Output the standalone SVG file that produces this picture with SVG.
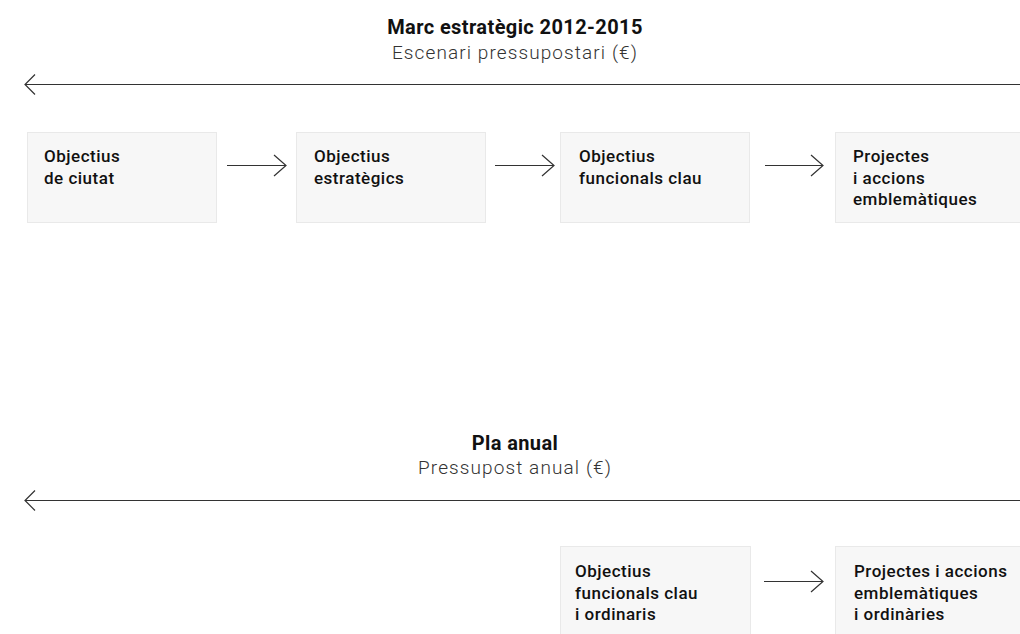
<svg xmlns="http://www.w3.org/2000/svg" width="1020" height="634" viewBox="0 0 1020 634">
<style>
.box{fill:#f7f7f7;stroke:#e9e9e9;stroke-width:1}
.t{font-family:Roboto,"Liberation Sans",sans-serif;font-size:17px;font-weight:500;fill:#111;letter-spacing:0.5px}
.h{font-family:Roboto,"Liberation Sans",sans-serif;font-size:20px;font-weight:700;fill:#111;text-anchor:middle;letter-spacing:0.4px}
.s{font-family:Roboto,"Liberation Sans",sans-serif;font-size:19px;font-weight:300;fill:#333;text-anchor:middle;letter-spacing:1.1px}
.ln{stroke:#333;stroke-width:1.2;fill:none}
</style>
<rect width="1020" height="634" fill="#fff"/>
<g id="header-top">
<text class="h" x="515" y="34">Marc estratègic 2012-2015</text>
<text class="s" x="515" y="59">Escenari pressupostari (€)</text>
</g>
<g id="header-bottom">
<text class="h" x="515" y="450">Pla anual</text>
<text class="s" x="515" y="474">Pressupost anual (€)</text>
</g>
<g id="n1"><rect class="box" x="27.5" y="132.5" width="189" height="90"/><text class="t" x="44" y="162">Objectius</text><text class="t" x="44" y="183.5">de ciutat</text></g>
<g id="n2"><rect class="box" x="296.5" y="132.5" width="189" height="90"/><text class="t" x="314" y="162">Objectius</text><text class="t" x="314" y="183.5">estratègics</text></g>
<g id="n3"><rect class="box" x="560.5" y="132.5" width="189" height="90"/><text class="t" x="579" y="162">Objectius</text><text class="t" x="579" y="183.5">funcionals clau</text></g>
<g id="n4"><rect class="box" x="835.5" y="132.5" width="189" height="90"/><text class="t" x="853" y="162">Projectes</text><text class="t" x="853" y="183.5">i accions</text><text class="t" x="853" y="205">emblemàtiques</text></g>
<g id="n5"><rect class="box" x="560.5" y="546.5" width="190" height="100"/><text class="t" x="575" y="577">Objectius</text><text class="t" x="575" y="598.5">funcionals clau</text><text class="t" x="575" y="620">i ordinaris</text></g>
<g id="n6"><rect class="box" x="835.5" y="546.5" width="189" height="100"/><text class="t" x="854" y="577">Projectes i accions</text><text class="t" x="854" y="598.5">emblemàtiques</text><text class="t" x="854" y="620">i ordinàries</text></g>
<g id="connectors">
<path class="ln" d="M25 84.5H1020M35 74.5L25 84.5L35 94.5"/>
<path class="ln" d="M25 500.5H1020M35 490.5L25 500.5L35 510.5"/>
<path class="ln" d="M227 165.5H286M274 155L286 165.5L274 176"/>
<path class="ln" d="M495 165.5H554M542 155L554 165.5L542 176"/>
<path class="ln" d="M765 165.5H823M811 155L823 165.5L811 176"/>
<path class="ln" d="M764 581.5H823M811 571L823 581.5L811 592"/>
</g>
</svg>
